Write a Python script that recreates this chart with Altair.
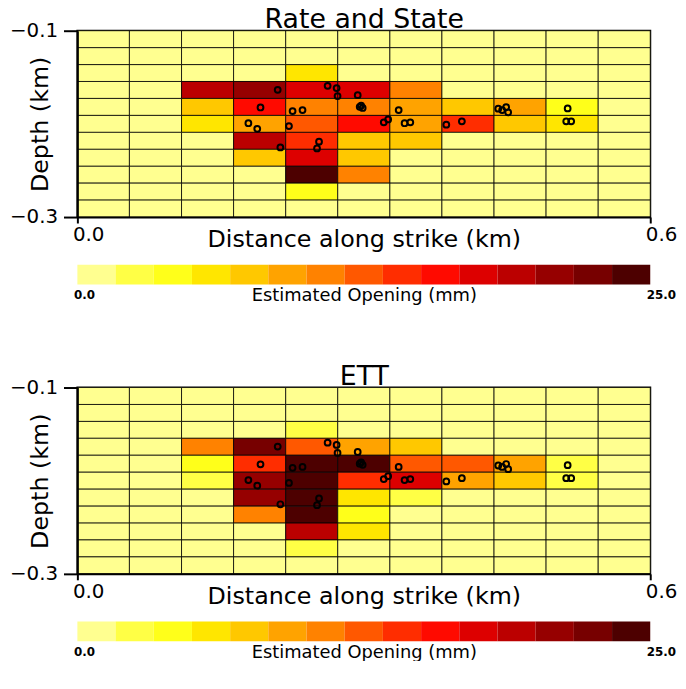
import altair as alt
import pandas as pd

# cell edges along strike (km) and depth (km)
x_edges = [0.0, 0.0545, 0.1091, 0.1636, 0.2182, 0.2727, 0.3273, 0.3818, 0.4364, 0.4909, 0.5455, 0.6]
depth_edges = [-0.1, -0.1182, -0.1364, -0.1545, -0.1727, -0.1909, -0.2091, -0.2273, -0.2455, -0.2636, -0.2818, -0.3]

# estimated opening (mm), rows top -> bottom, columns left -> right
rs_opening = [
    [0, 0, 0, 0, 0, 0, 0, 0, 0, 0, 0],
    [0, 0, 0, 0, 0, 0, 0, 0, 0, 0, 0],
    [0, 0, 0, 0, 5.8, 0, 0, 0, 0, 0, 0],
    [0, 0, 19.2, 20.8, 17.5, 17.5, 10.8, 0, 0, 0, 0],
    [0, 0, 7.5, 15.8, 10.8, 10.8, 9.2, 7.5, 9.2, 4.2, 0],
    [0, 0, 5.8, 9.2, 12.5, 15.8, 9.2, 14.2, 7.5, 5.8, 0],
    [0, 0, 0, 19.2, 14.2, 7.5, 7.5, 0, 0, 0, 0],
    [0, 0, 0, 7.5, 17.5, 7.5, 0, 0, 0, 0, 0],
    [0, 0, 0, 0, 24.2, 10.8, 0, 0, 0, 0, 0],
    [0, 0, 0, 0, 4.2, 0, 0, 0, 0, 0, 0],
    [0, 0, 0, 0, 0, 0, 0, 0, 0, 0, 0],
]
ett_opening = [
    [0, 0, 0, 0, 0, 0, 0, 0, 0, 0, 0],
    [0, 0, 0, 0, 0, 0, 0, 0, 0, 0, 0],
    [0, 0, 0, 0, 2.5, 0, 0, 0, 0, 0, 0],
    [0, 0, 10.8, 22.5, 12.5, 9.2, 7.5, 0, 0, 0, 0],
    [0, 0, 4.2, 14.2, 24.2, 24.2, 12.5, 12.5, 9.2, 2.5, 0],
    [0, 0, 2.5, 20.8, 24.2, 14.2, 17.5, 9.2, 7.5, 2.5, 0],
    [0, 0, 0, 20.8, 24.2, 5.8, 2.5, 0, 0, 0, 0],
    [0, 0, 0, 10.8, 24.2, 4.2, 0, 0, 0, 0, 0],
    [0, 0, 0, 0, 19.2, 5.8, 0, 0, 0, 0, 0],
    [0, 0, 0, 0, 2.5, 0, 0, 0, 0, 0, 0],
    [0, 0, 0, 0, 0, 0, 0, 0, 0, 0, 0],
]

# event locations
quake_x = [0.2098, 0.2621, 0.2715, 0.2725, 0.2936, 0.1918, 0.2254, 0.2358, 0.1791, 0.1884,
           0.2216, 0.2531, 0.2510, 0.2126, 0.2957, 0.2988, 0.2972, 0.3209, 0.3255, 0.3365,
           0.3427, 0.3487, 0.3864, 0.4027, 0.4408, 0.4449, 0.4491, 0.4512, 0.5135, 0.5120, 0.5172]
quake_depth = [-0.1634, -0.1592, -0.1616, -0.1702, -0.1692, -0.1824, -0.1862, -0.1852, -0.1993, -0.2053,
               -0.2024, -0.2191, -0.2263, -0.2253, -0.1817, -0.1829, -0.1803, -0.1983, -0.1952, -0.1852,
               -0.1993, -0.1983, -0.2008, -0.1973, -0.1837, -0.1852, -0.1821, -0.1876, -0.1834, -0.1973, -0.1973]

# colour bar
cbar_edges = [0.0, 1.667, 3.333, 5.0, 6.667, 8.333, 10.0, 11.667, 13.333, 15.0,
              16.667, 18.333, 20.0, 21.667, 23.333, 25.0]
palette = ["#FFFF90", "#FFFF45", "#FFFF1A", "#FFE600", "#FFC800", "#FFA300", "#FF8200",
           "#FF5800", "#FF2D00", "#FF0A00", "#DD0000", "#BB0000", "#960000", "#770000", "#4D0000"]

W, H = 578, 188
FONT = "DejaVu Sans"

color_scale = alt.Scale(type="quantize", domain=[0, 25], range=palette)
quakes = pd.DataFrame({"x": quake_x, "d": quake_depth})


def panel(title, grid):
    rows = []
    for r, row in enumerate(grid):
        for c, v in enumerate(row):
            rows.append(dict(x0=x_edges[c], x1=x_edges[c + 1],
                             y0=depth_edges[r], y1=depth_edges[r + 1], v=v))
    cells = pd.DataFrame(rows)
    xs = alt.Scale(domain=[0, 0.6], nice=False, zero=False)
    ys = alt.Scale(domain=[-0.3, -0.1], nice=False, zero=False)
    xaxis = alt.Axis(values=[0, 0.6], format=".1f", labelFlush=False, labelAlign="left",
                     labelOffset=-5, labelFontSize=20, labelPadding=2, tickSize=6, tickWidth=2,
                     domainWidth=2, grid=False, title="Distance along strike (km)",
                     titleFontSize=24, titleFontWeight="normal", titleX=W / 2, titleY=30,
                     titleBaseline="alphabetic", zindex=1)
    topaxis = alt.Axis(orient="top", labels=False, ticks=False, domain=False, grid=False,
                       title=title, titleFontSize=27, titleFontWeight="normal",
                       titleX=W / 2, titleY=-3, titleBaseline="alphabetic", titleAlign="center")
    yaxis = alt.Axis(values=[-0.1, -0.3], format=".1f", labelFontSize=20, labelPadding=6,
                     tickSize=14, tickWidth=2, domainWidth=2, grid=False, title="Depth (km)",
                     titleFontSize=24, titleFontWeight="normal", titleX=-37, titleY=H / 2,
                     titleAngle=270, titleAlign="center", titleBaseline="middle", zindex=1)
    rect = alt.Chart(cells).mark_rect(stroke="black", strokeWidth=1, strokeOpacity=0.8).encode(
        x=alt.X("x0:Q", scale=xs, axis=xaxis),
        x2="x1",
        y=alt.Y("y0:Q", scale=ys, axis=yaxis),
        y2="y1",
        color=alt.Color("v:Q", scale=color_scale, legend=None),
    )
    pts = alt.Chart(quakes).mark_point(shape="circle", filled=False, stroke="black",
                                       strokeWidth=2, size=34, opacity=1).encode(
        x=alt.X("x:Q", scale=xs, axis=topaxis), y=alt.Y("d:Q", scale=ys))
    return alt.layer(rect, pts).resolve_axis(x="independent").properties(
        width=W, height=H,
        view=alt.ViewBackground(stroke="black", strokeWidth=2),
    )


def colorbar():
    cb = pd.DataFrame({"lo": cbar_edges[:-1], "hi": cbar_edges[1:]})
    cb["mid"] = (cb["lo"] + cb["hi"]) / 2
    axis = alt.Axis(values=[0, 25], format=".1f", labelFlush=False, labelAlign="left",
                    labelOffset=-4, ticks=False, domain=False, labelFontSize=12,
                    labelFontWeight="bold", labelPadding=5, grid=False,
                    title="Estimated Opening (mm)", titleFontSize=18, titleFontWeight="normal",
                    titleX=W / 2, titleY=16, titleBaseline="alphabetic")
    return alt.Chart(cb).mark_rect().encode(
        x=alt.X("lo:Q", scale=alt.Scale(domain=[0, 25], nice=False, zero=False), axis=axis),
        x2="hi",
        color=alt.Color("mid:Q", scale=color_scale, legend=None),
    ).properties(width=W, height=20, view=alt.ViewBackground(strokeWidth=0))


top = alt.vconcat(panel("Rate and State", rs_opening), colorbar(), spacing=12).resolve_scale(
    x="independent", y="independent", color="shared")
bottom = alt.vconcat(panel("ETT", ett_opening), colorbar(), spacing=12).resolve_scale(
    x="independent", y="independent", color="shared")

chart = alt.vconcat(top, bottom, spacing=58).resolve_scale(
    x="independent", y="independent", color="shared"
).properties(padding={"left": 0, "top": -6, "right": 0, "bottom": -3}).configure(
    font=FONT).configure_axis(
    labelColor="black", titleColor="black", domainColor="black", tickColor="black",
    labelFont=FONT, titleFont=FONT)

chart.save("out.html", embed_options={"renderer": "svg", "actions": False})
